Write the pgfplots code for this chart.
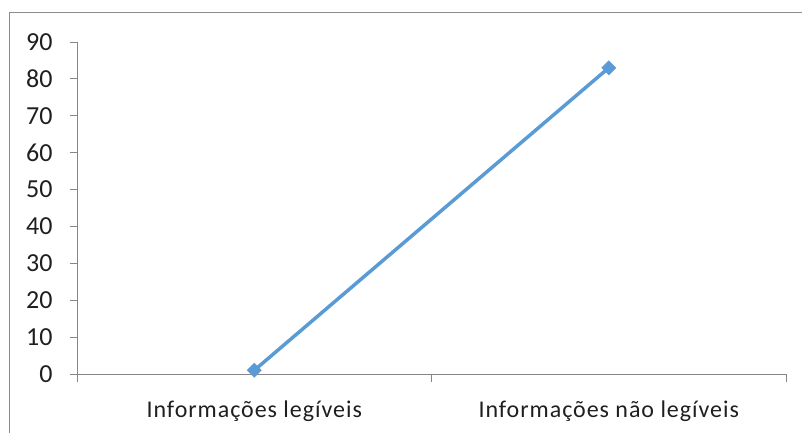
\documentclass[border=0pt]{standalone}
\usepackage{pgfplots}
\pgfplotsset{compat=1.18}
\usepackage{fontspec}
\setmainfont{Carlito}
\definecolor{seriesblue}{HTML}{5B9BD5}
\definecolor{axisgray}{HTML}{868686}
\definecolor{framegray}{HTML}{8C8C8C}
\begin{document}
\begin{tikzpicture}
  \useasboundingbox (0pt,0pt) rectangle (802pt,-433pt);
  % outer chart frame
  \draw[framegray, line width=1.2pt] (9.5pt,-433pt) -- (9.5pt,-12.5pt) -- (802pt,-12.5pt);
  \begin{axis}[
    at={(77pt,-374pt)}, anchor=south west,
    scale only axis, width=709pt, height=332pt,
    xmin=0, xmax=4, ymin=0, ymax=90,
    axis x line*=bottom, axis y line*=left,
    axis line style={axisgray, line width=0.9pt},
    every outer x axis line/.append style={-},
    every outer y axis line/.append style={-},
    xtick={1,3},
    xticklabels={Informações legíveis, Informações não legíveis},
    minor xtick={0,2,4},
    ytick={0,10,...,90},
    major x tick style={draw=none},
    minor tick length=8pt,
    major tick length=7pt,
    tick align=outside,
    tick style={axisgray, line width=0.9pt},
    tick label style={text=black!88},
    /pgf/number format/assume math mode=true,
    yticklabel style={xshift=-14pt, font=\fontsize{26}{30}\selectfont},
    xticklabel style={yshift=-16pt, font=\fontsize{24}{28}\selectfont\addfontfeature{LetterSpace=4}},
    clip=false,
  ]
    \addplot[seriesblue, line width=3.5pt, mark=square*, mark size=5pt,
             mark options={fill=seriesblue, draw=seriesblue, line width=0.5pt, rotate=45}]
      coordinates {(1,1) (3,83)};
  \end{axis}
\end{tikzpicture}
\end{document}
